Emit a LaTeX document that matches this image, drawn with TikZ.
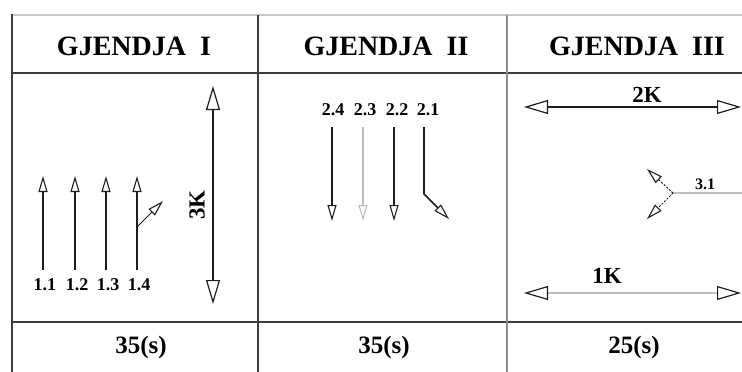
\documentclass[tikz,border=0pt]{standalone}
\usepackage{fontspec}
\setmainfont{Liberation Serif}
\usetikzlibrary{arrows.meta}

\definecolor{rule}{HTML}{3C3C3C}
\definecolor{rulelight}{HTML}{C8C8C8}
\definecolor{rulemid}{HTML}{8C8C8C}
\definecolor{ink}{HTML}{1E1E1E}
\definecolor{pale}{HTML}{BEBEBE}

\begin{document}
\begin{tikzpicture}[x=1pt,y=-1pt,
  tablerule/.style={line width=2pt, draw=#1},
  headtext/.style={font=\bfseries\fontsize{28}{30}\selectfont, anchor=base},
  timetext/.style={font=\bfseries\fontsize{25}{27}\selectfont},
  tag/.style={font=\bfseries\fontsize{18}{20}\selectfont, inner sep=0pt},
  bigtag/.style={font=\bfseries\fontsize{23}{25}\selectfont, inner sep=0pt},
  smallhead/.style={-{Triangle[fill=white,length=16pt,width=9pt,line width=1.1pt]}},
  bighead/.style={{Triangle[fill=white,color=ink,length=24pt,width=14pt,line width=1.2pt]}-{Triangle[fill=white,color=ink,length=24pt,width=14pt,line width=1.2pt]}},
  shaft/.style={line width=1.6pt, draw=ink},
  paleshaft/.style={line width=1.6pt, draw=pale},
  thinshaft/.style={line width=1pt, draw=ink},
  dashshaft/.style={line width=1pt, draw=ink, dash pattern=on 2pt off 1.5pt}
]
\useasboundingbox (0,0) rectangle (742,372);

% table frame
\draw[tablerule=rulelight] (12,15) -- (742,15);
\draw[tablerule=rule] (12,14) -- (12,372);
\draw[tablerule=rule] (12,73) -- (742,73);
\draw[tablerule=rule] (12,322) -- (742,322);
\draw[tablerule=rule] (258,15) -- (258,372);
\draw[tablerule=rulemid] (507,15) -- (507,372);

% column headings
\node[headtext] (h1) at (134,55) {GJENDJA\ \ I};
\node[headtext] (h2) at (386,55) {GJENDJA\ \ II};
\node[headtext] (h3) at (637,55) {GJENDJA\ \ III};

% durations
\node[timetext] (t1) at (141,347) {35(s)};
\node[timetext] (t2) at (384,347) {35(s)};
\node[timetext] (t3) at (634,347) {25(s)};

% ---- state I: four upward arrows and the 3K double arrow
\foreach \i/\x in {1/43,2/75,3/106,4/137}{
  \coordinate (a\i s) at (\x,270);
  \coordinate (a\i e) at (\x,176);
  \draw[shaft, smallhead] (a\i s) -- (a\i e);
}
\node[tag] (l11) at (45,285) {1.1};
\node[tag] (l12) at (77,285) {1.2};
\node[tag] (l13) at (108,285) {1.3};
\node[tag] (l14) at (139,285) {1.4};
\coordinate (b14s) at (137,227);
\coordinate (b14e) at (163,201);
\draw[thinshaft, smallhead] (b14s) -- (b14e);

\coordinate (k3a) at (213,304);
\coordinate (k3b) at (213,86);
\draw[shaft, bighead] (k3a) -- (k3b);
\node[bigtag, rotate=90] (k3) at (197,205) {3K};

% ---- state II: four downward arrows
\node[tag] (l24) at (333,110) {2.4};
\node[tag] (l23) at (365,110) {2.3};
\node[tag] (l22) at (397,110) {2.2};
\node[tag] (l21) at (428,110) {2.1};
\coordinate (c24s) at (332,127);
\coordinate (c24e) at (332,221);
\coordinate (c23s) at (363,127);
\coordinate (c23e) at (363,221);
\coordinate (c22s) at (394,127);
\coordinate (c22e) at (394,221);
\coordinate (c21s) at (424,127);
\coordinate (c21m) at (424,194);
\coordinate (c21e) at (449,219);
\draw[shaft, smallhead] (c24s) -- (c24e);
\draw[paleshaft, smallhead] (c23s) -- (c23e);
\draw[shaft, smallhead] (c22s) -- (c22e);
\draw[shaft, smallhead] (c21s) -- (c21m) -- (c21e);

% ---- state III: 2K, 1K and the split 3.1
\coordinate (k2a) at (524,107);
\coordinate (k2b) at (741,107);
\draw[shaft, bighead] (k2a) -- (k2b);
\node[bigtag] (k2) at (647,95) {2K};

\coordinate (k1a) at (524,293);
\coordinate (k1b) at (741,293);
\draw[paleshaft, bighead] (k1a) -- (k1b);
\node[bigtag] (k1) at (607,276) {1K};

\coordinate (j31) at (673,193);
\coordinate (j31r) at (742,193);
\coordinate (j31u) at (647,169);
\coordinate (j31d) at (647,219);
\draw[line width=1.4pt, draw=pale] (j31) -- (j31r);
\draw[dashshaft, smallhead] (j31) -- (j31u);
\draw[dashshaft, smallhead] (j31) -- (j31d);
\node[tag, font=\bfseries\fontsize{16}{18}\selectfont] (l31) at (705,184) {3.1};
\end{tikzpicture}
\end{document}
